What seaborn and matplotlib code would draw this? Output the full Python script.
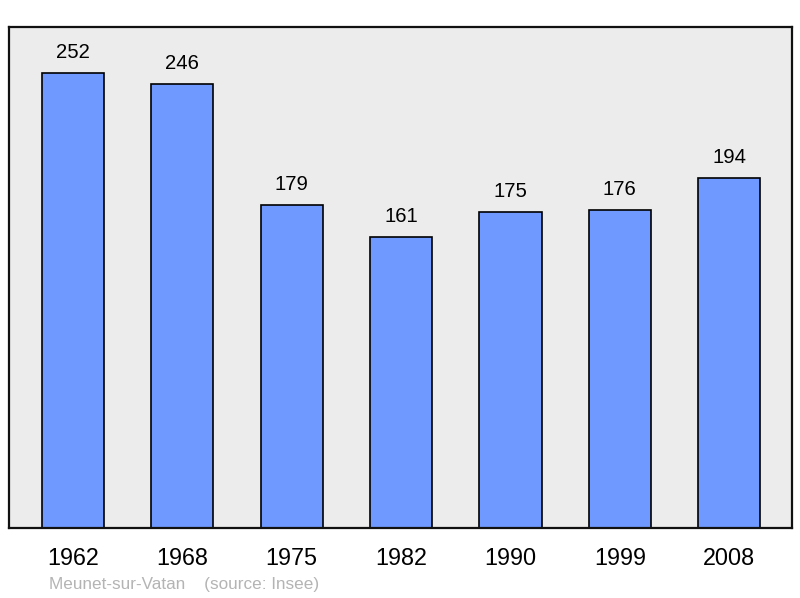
import matplotlib
matplotlib.use("Agg")
import matplotlib.pyplot as plt
import seaborn as sns
import pandas as pd

years = ["1962", "1968", "1975", "1982", "1990", "1999", "2008"]
population = [252, 246, 179, 161, 175, 176, 194]

sns.set_style("white")
plt.rcParams["font.family"] = ["Liberation Sans", "DejaVu Sans"]
plt.rcParams["text.color"] = "black"
plt.rcParams["xtick.color"] = "black"

df = pd.DataFrame({"year": years, "pop": population})

fig = plt.figure(figsize=(8, 5.98), dpi=100)
ax = fig.add_axes([9 / 800, 1 - 528 / 598, 783 / 800, 501 / 598])
ax.set_facecolor("#ececec")

sns.barplot(data=df, x="year", y="pop", color="#7099ff", saturation=1,
            width=0.57, edgecolor="black", linewidth=1.2, ax=ax)

for i, v in enumerate(population):
    ax.text(i, v + 6, str(v), ha="center", va="bottom", fontsize=14.6)

ax.set_xlim(-0.585, 6.575)
ax.set_ylim(0, 277.4)
ax.set_yticks([])
ax.set_xlabel("")
ax.set_ylabel("")
ax.tick_params(axis="x", length=0, labelsize=16.8, pad=14)
for s in ax.spines.values():
    s.set_linewidth(1.6)
    s.set_color("#111111")

fig.text(49 / 800, 1 - 584 / 598, "Meunet-sur-Vatan    (source: Insee)",
         color="#b4b4b4", fontsize=12.3, va="center")

fig.savefig("out.png", dpi=100)
